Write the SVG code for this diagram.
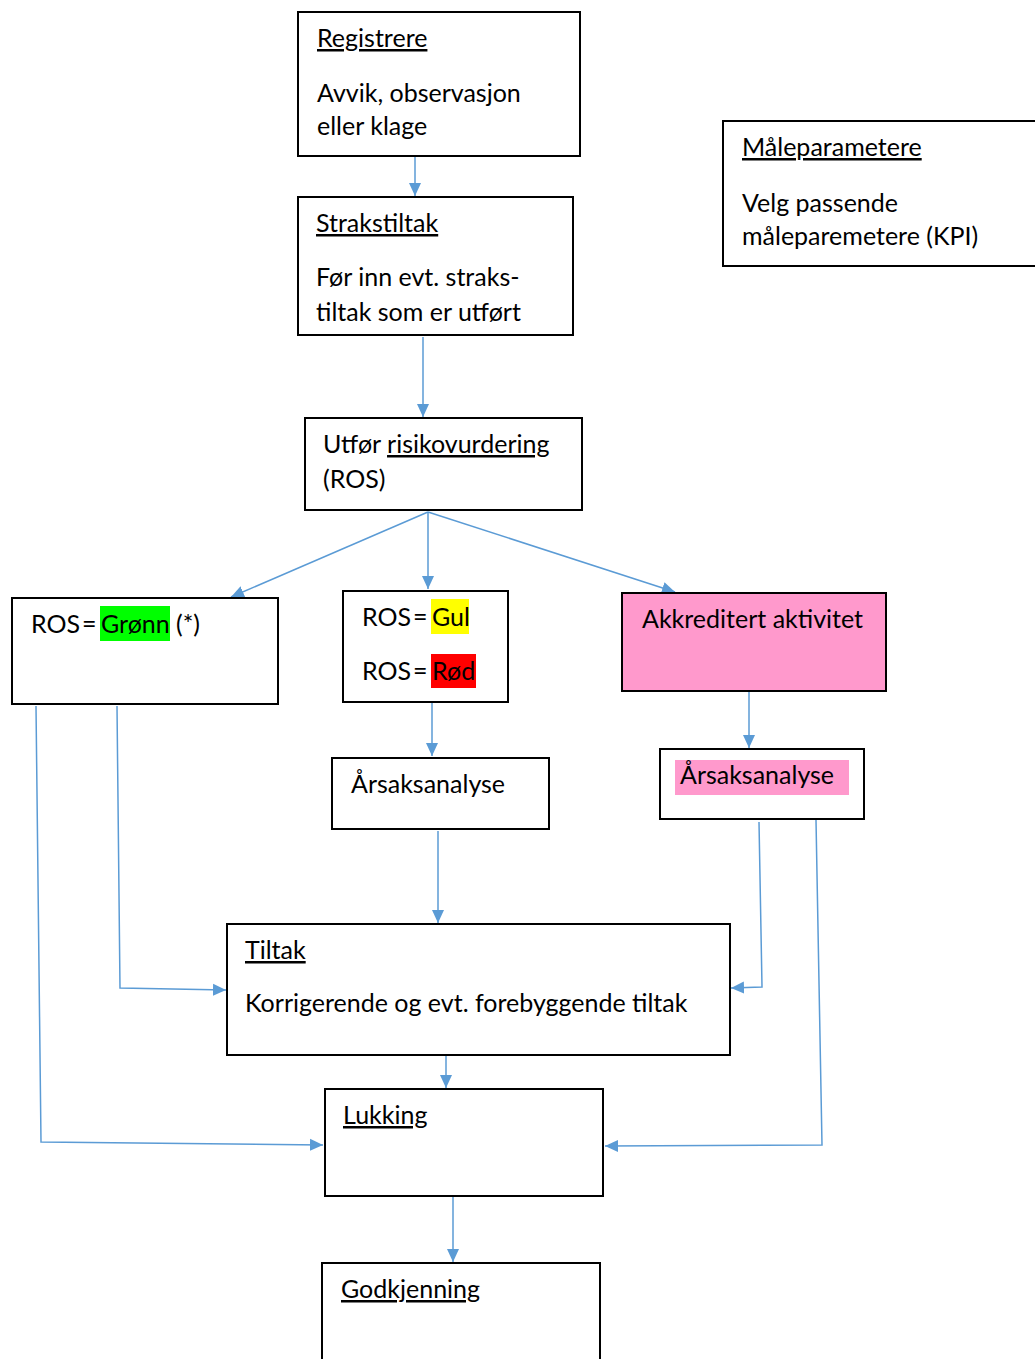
<svg xmlns="http://www.w3.org/2000/svg" width="1035" height="1359" viewBox="0 0 1035 1359">
<style>
.box{fill:#fff;stroke:#000;stroke-width:2}
.t{font-family:Lato,"Liberation Sans",sans-serif;font-size:25px;fill:#000}
.u{text-decoration:underline}
.c{fill:none;stroke:#5B9BD5;stroke-width:1.5;marker-end:url(#ah)}
</style>
<defs>
<marker id="ah" markerUnits="userSpaceOnUse" markerWidth="14" markerHeight="14" viewBox="0 0 14 14" refX="13" refY="7" orient="auto">
<path d="M0,1 L13,7 L0,13 Z" fill="#5B9BD5"/>
</marker>
</defs>
<rect width="1035" height="1359" fill="#fff"/>
<g id="connectors">
<path class="c" d="M415,157 L415,196"/>
<path class="c" d="M423,337 L423,417"/>
<path class="c" d="M428,512 L231,597"/>
<path class="c" d="M428,512 L428,589"/>
<path class="c" d="M428,512 L675,592"/>
<path class="c" d="M432,703 L432,756"/>
<path class="c" d="M749,692 L749,748"/>
<path class="c" d="M438,831 L438,923"/>
<path class="c" d="M117,706 L120,988 L226,990"/>
<path class="c" d="M36,706 L41,1142 L323,1145"/>
<path class="c" d="M759,822 L762,987 L731,988"/>
<path class="c" d="M816,820 L822,1145 L605,1146"/>
<path class="c" d="M446,1056 L446,1088"/>
<path class="c" d="M453,1197 L453,1262"/>
</g>
<g id="registrere">
<rect class="box" x="298" y="12" width="282" height="144"/>
<text class="t u" x="317" y="47">Registrere</text>
<text class="t" x="317" y="102">Avvik, observasjon</text>
<text class="t" x="317" y="135">eller klage</text>
</g>
<g id="strakstiltak">
<rect class="box" x="298" y="197" width="275" height="138"/>
<text class="t u" x="316" y="232">Strakstiltak</text>
<text class="t" x="316" y="286">Før inn evt. straks-</text>
<text class="t" x="316" y="321">tiltak som er utført</text>
</g>
<g id="ros">
<rect class="box" x="305" y="418" width="277" height="92"/>
<text class="t" x="323" y="453">Utfør <tspan class="u">risikovurdering</tspan></text>
<text class="t" x="323" y="488">(ROS)</text>
</g>
<g id="maleparametere">
<rect class="box" x="723" y="121" width="320" height="145"/>
<text class="t u" x="742" y="156">Måleparametere</text>
<text class="t" x="742" y="212">Velg passende</text>
<text class="t" x="742" y="245">måleparemetere (KPI)</text>
</g>
<g id="gronn">
<rect class="box" x="12" y="598" width="266" height="106"/>
<rect x="100" y="606" width="70" height="35" fill="#00FF00"/>
<text class="t" x="31" y="633">ROS<tspan x="82">=</tspan><tspan x="101">Grønn</tspan><tspan x="176">(*)</tspan></text>
</g>
<g id="gulrod">
<rect class="box" x="343" y="591" width="165" height="111"/>
<rect x="431" y="599" width="38" height="35" fill="#FFFF00"/>
<rect x="431" y="654" width="45" height="34" fill="#FF0000"/>
<text class="t" x="362" y="626">ROS<tspan x="413">=</tspan><tspan x="432">Gul</tspan></text>
<text class="t" x="362" y="680">ROS<tspan x="413">=</tspan><tspan x="432">Rød</tspan></text>
</g>
<g id="akkreditert">
<rect class="box" x="622" y="593" width="264" height="98" style="fill:#FF99CC"/>
<text class="t" x="642" y="628">Akkreditert aktivitet</text>
</g>
<g id="arsak1">
<rect class="box" x="332" y="758" width="217" height="71"/>
<text class="t" x="351" y="793">Årsaksanalyse</text>
</g>
<g id="arsak2">
<rect class="box" x="660" y="749" width="204" height="70"/>
<rect x="675" y="760" width="174" height="35" fill="#FF99CC"/>
<text class="t" x="680" y="784">Årsaksanalyse</text>
</g>
<g id="tiltak">
<rect class="box" x="227" y="924" width="503" height="131"/>
<text class="t u" x="245" y="959">Tiltak</text>
<text class="t" x="245" y="1012">Korrigerende og evt. forebyggende tiltak</text>
</g>
<g id="lukking">
<rect class="box" x="325" y="1089" width="278" height="107"/>
<text class="t u" x="343" y="1124">Lukking</text>
</g>
<g id="godkjenning">
<rect class="box" x="322" y="1263" width="278" height="110"/>
<text class="t u" x="341" y="1298">Godkjenning</text>
</g>
</svg>
